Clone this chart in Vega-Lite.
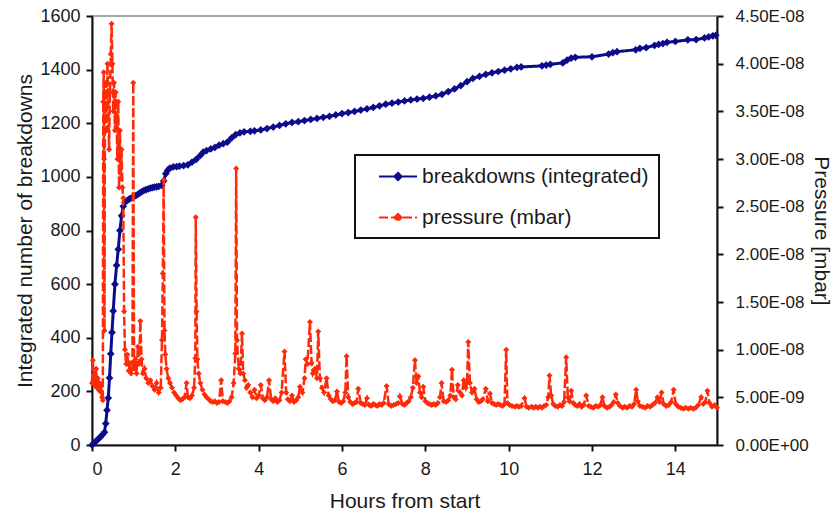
{
  "$schema": "https://vega.github.io/schema/vega-lite/v6.json",
  "width": 625,
  "height": 429,
  "autosize": {"type": "none"},
  "padding": {"left": 92, "top": 16, "right": 117, "bottom": 67},
  "background": "white",
  "config": {
    "view": {"stroke": "#8c8c8c", "strokeWidth": 1.5},
    "font": "Liberation Sans",
    "axis": {
      "grid": false,
      "domainColor": "#111111",
      "domainWidth": 2,
      "tickColor": "#111111",
      "tickWidth": 2,
      "tickSize": 6,
      "labelFont": "Liberation Sans",
      "labelFontSize": 18,
      "labelColor": "#1a1a1a",
      "titleFont": "Liberation Sans",
      "titleFontSize": 21,
      "titleFontWeight": "normal",
      "titleColor": "#1a1a1a"
    },
    "legend": {
      "labelFont": "Liberation Sans",
      "labelFontSize": 21,
      "labelColor": "#1a1a1a",
      "labelLimit": 400,
      "strokeColor": "#111111",
      "strokeWidth": 2,
      "fillColor": "white",
      "padding": 10,
      "rowPadding": 19,
      "symbolType": "M0.24,0H3.86M2.05,-0.35L2.4,0L2.05,0.35L1.7,0Z",
      "symbolSize": 441,
      "symbolStrokeWidth": 2,
      "labelOffset": 34
    }
  },
  "datasets": {
    "breakdowns": [
      {"t":0,"v":0},{"t":0.05,"v":8},{"t":0.1,"v":15},{"t":0.15,"v":22},{"t":0.2,"v":30},{"t":0.25,"v":38},{"t":0.3,"v":48},
      {"t":0.33,"v":80},{"t":0.36,"v":130},{"t":0.39,"v":175},{"t":0.42,"v":250},{"t":0.45,"v":340},{"t":0.48,"v":420},
      {"t":0.51,"v":500},{"t":0.55,"v":600},{"t":0.59,"v":670},{"t":0.63,"v":730},{"t":0.67,"v":800},{"t":0.71,"v":855},
      {"t":0.75,"v":890},{"t":0.79,"v":905},{"t":0.85,"v":912},{"t":0.9,"v":918},{"t":0.95,"v":922},{"t":1.0,"v":926},
      {"t":1.05,"v":930},{"t":1.1,"v":935},{"t":1.15,"v":940},{"t":1.2,"v":945},{"t":1.25,"v":950},{"t":1.3,"v":952},
      {"t":1.35,"v":955},{"t":1.4,"v":958},{"t":1.45,"v":960},{"t":1.5,"v":962},{"t":1.55,"v":963},{"t":1.6,"v":965},
      {"t":1.67,"v":968},{"t":1.72,"v":985},{"t":1.77,"v":1012},{"t":1.82,"v":1025},{"t":1.87,"v":1033},{"t":1.95,"v":1037},
      {"t":2.03,"v":1038},{"t":2.1,"v":1040},{"t":2.2,"v":1042},{"t":2.3,"v":1045},{"t":2.4,"v":1055},{"t":2.5,"v":1065},
      {"t":2.6,"v":1080},{"t":2.67,"v":1092},{"t":2.75,"v":1098},{"t":2.85,"v":1104},{"t":2.95,"v":1110},{"t":3.05,"v":1118},
      {"t":3.15,"v":1124},{"t":3.25,"v":1130},{"t":3.35,"v":1145},{"t":3.45,"v":1158},{"t":3.55,"v":1164},{"t":3.65,"v":1168},
      {"t":3.8,"v":1170},{"t":3.9,"v":1172},{"t":4.05,"v":1175},{"t":4.2,"v":1180},{"t":4.35,"v":1186},{"t":4.5,"v":1192},
      {"t":4.65,"v":1198},{"t":4.8,"v":1203},{"t":4.95,"v":1206},{"t":5.1,"v":1210},{"t":5.25,"v":1214},{"t":5.4,"v":1218},
      {"t":5.55,"v":1222},{"t":5.7,"v":1226},{"t":5.85,"v":1231},{"t":6.0,"v":1236},{"t":6.15,"v":1240},{"t":6.3,"v":1244},
      {"t":6.45,"v":1249},{"t":6.6,"v":1254},{"t":6.75,"v":1259},{"t":6.9,"v":1265},{"t":7.05,"v":1271},{"t":7.2,"v":1275},
      {"t":7.35,"v":1279},{"t":7.5,"v":1283},{"t":7.65,"v":1287},{"t":7.8,"v":1290},{"t":7.95,"v":1293},{"t":8.1,"v":1297},
      {"t":8.25,"v":1302},{"t":8.4,"v":1308},{"t":8.55,"v":1318},{"t":8.7,"v":1328},{"t":8.85,"v":1340},{"t":9.0,"v":1355},
      {"t":9.14,"v":1367},{"t":9.3,"v":1375},{"t":9.45,"v":1382},{"t":9.6,"v":1388},{"t":9.75,"v":1393},{"t":9.9,"v":1398},
      {"t":10.05,"v":1403},{"t":10.2,"v":1408},{"t":10.3,"v":1410},{"t":10.8,"v":1414},{"t":10.9,"v":1417},{"t":11.0,"v":1420},
      {"t":11.3,"v":1425},{"t":11.4,"v":1435},{"t":11.5,"v":1443},{"t":11.6,"v":1446},{"t":12.0,"v":1448},{"t":12.4,"v":1458},
      {"t":12.5,"v":1463},{"t":12.6,"v":1467},{"t":13.05,"v":1474},{"t":13.15,"v":1479},{"t":13.3,"v":1482},{"t":13.5,"v":1490},
      {"t":13.6,"v":1494},{"t":13.7,"v":1497},{"t":13.8,"v":1502},{"t":14.0,"v":1505},{"t":14.3,"v":1511},{"t":14.5,"v":1512},
      {"t":14.7,"v":1518},{"t":14.8,"v":1522},{"t":14.9,"v":1526},{"t":14.97,"v":1528}
    ],
    "pressure": [
      {"t":0.00,"p":6.5e-9},{"t":0.02,"p":8.9e-9},{"t":0.04,"p":6.8e-9},{"t":0.06,"p":7.5e-9},{"t":0.08,"p":6.2e-9},
      {"t":0.10,"p":8.0e-9},{"t":0.12,"p":6.0e-9},{"t":0.14,"p":7.0e-9},{"t":0.16,"p":5.8e-9},{"t":0.18,"p":6.5e-9},
      {"t":0.20,"p":5.6e-9},{"t":0.22,"p":6.2e-9},{"t":0.24,"p":5.0e-9},{"t":0.26,"p":4.7e-9},{"t":0.27,"p":36.0e-9},
      {"t":0.28,"p":39.1e-9},{"t":0.29,"p":30.0e-9},{"t":0.30,"p":12.0e-9},{"t":0.31,"p":35.0e-9},{"t":0.33,"p":38.0e-9},
      {"t":0.35,"p":33.0e-9},{"t":0.37,"p":40.0e-9},{"t":0.39,"p":36.0e-9},{"t":0.41,"p":31.0e-9},{"t":0.43,"p":37.0e-9},
      {"t":0.45,"p":41.0e-9},{"t":0.47,"p":44.2e-9},{"t":0.49,"p":40.0e-9},{"t":0.51,"p":35.0e-9},{"t":0.53,"p":38.0e-9},
      {"t":0.55,"p":33.0e-9},{"t":0.57,"p":37.0e-9},{"t":0.59,"p":34.0e-9},{"t":0.61,"p":30.0e-9},{"t":0.63,"p":36.0e-9},
      {"t":0.65,"p":27.0e-9},{"t":0.67,"p":33.0e-9},{"t":0.69,"p":28.0e-9},{"t":0.71,"p":31.0e-9},{"t":0.73,"p":27.0e-9},
      {"t":0.75,"p":25.9e-9},{"t":0.77,"p":14.0e-9},{"t":0.79,"p":10.0e-9},{"t":0.82,"p":8.5e-9},{"t":0.85,"p":9.5e-9},
      {"t":0.88,"p":7.8e-9},{"t":0.91,"p":8.6e-9},{"t":0.94,"p":7.5e-9},{"t":0.97,"p":8.0e-9},{"t":0.99,"p":38.0e-9},
      {"t":1.01,"p":8.0e-9},{"t":1.04,"p":9.0e-9},{"t":1.07,"p":7.5e-9},{"t":1.10,"p":10.3e-9},{"t":1.13,"p":8.5e-9},
      {"t":1.16,"p":13.0e-9},{"t":1.19,"p":9.0e-9},{"t":1.22,"p":7.5e-9},{"t":1.26,"p":8.0e-9},{"t":1.30,"p":7.0e-9},
      {"t":1.35,"p":6.5e-9},{"t":1.40,"p":6.8e-9},{"t":1.45,"p":6.2e-9},{"t":1.50,"p":5.8e-9},{"t":1.55,"p":6.5e-9},
      {"t":1.60,"p":5.5e-9},{"t":1.65,"p":6.0e-9},{"t":1.68,"p":11.0e-9},{"t":1.70,"p":18.0e-9},{"t":1.72,"p":27.8e-9},
      {"t":1.74,"p":12.0e-9},{"t":1.76,"p":9.5e-9},{"t":1.79,"p":8.0e-9},{"t":1.83,"p":7.0e-9},{"t":1.87,"p":6.5e-9},
      {"t":1.92,"p":6.0e-9},{"t":1.97,"p":5.5e-9},{"t":2.02,"p":5.2e-9},{"t":2.07,"p":4.9e-9},{"t":2.12,"p":4.7e-9},
      {"t":2.17,"p":4.8e-9},{"t":2.22,"p":5.0e-9},{"t":2.27,"p":6.5e-9},{"t":2.30,"p":5.0e-9},{"t":2.35,"p":4.9e-9},
      {"t":2.40,"p":5.2e-9},{"t":2.45,"p":6.0e-9},{"t":2.48,"p":9.1e-9},{"t":2.49,"p":23.9e-9},{"t":2.51,"p":14.0e-9},
      {"t":2.53,"p":9.0e-9},{"t":2.56,"p":7.5e-9},{"t":2.60,"p":6.5e-9},{"t":2.65,"p":5.8e-9},{"t":2.70,"p":5.3e-9},
      {"t":2.75,"p":5.0e-9},{"t":2.80,"p":4.8e-9},{"t":2.85,"p":4.6e-9},{"t":2.90,"p":4.5e-9},{"t":2.95,"p":4.6e-9},
      {"t":3.00,"p":4.4e-9},{"t":3.05,"p":4.5e-9},{"t":3.10,"p":6.8e-9},{"t":3.14,"p":4.6e-9},{"t":3.20,"p":4.5e-9},
      {"t":3.25,"p":4.4e-9},{"t":3.30,"p":4.6e-9},{"t":3.35,"p":5.0e-9},{"t":3.40,"p":6.5e-9},{"t":3.44,"p":9.6e-9},
      {"t":3.46,"p":29.0e-9},{"t":3.48,"p":11.0e-9},{"t":3.52,"p":8.0e-9},{"t":3.56,"p":7.5e-9},{"t":3.60,"p":11.7e-9},
      {"t":3.63,"p":7.5e-9},{"t":3.67,"p":6.8e-9},{"t":3.71,"p":6.0e-9},{"t":3.75,"p":6.3e-9},{"t":3.80,"p":5.5e-9},
      {"t":3.85,"p":5.0e-9},{"t":3.90,"p":5.8e-9},{"t":3.95,"p":4.9e-9},{"t":4.00,"p":5.2e-9},{"t":4.05,"p":6.3e-9},
      {"t":4.10,"p":4.9e-9},{"t":4.15,"p":4.7e-9},{"t":4.20,"p":5.0e-9},{"t":4.25,"p":6.8e-9},{"t":4.30,"p":4.8e-9},
      {"t":4.35,"p":4.6e-9},{"t":4.40,"p":4.9e-9},{"t":4.45,"p":4.5e-9},{"t":4.50,"p":4.7e-9},{"t":4.55,"p":5.5e-9},
      {"t":4.62,"p":9.8e-9},{"t":4.66,"p":5.5e-9},{"t":4.70,"p":4.8e-9},{"t":4.75,"p":4.6e-9},{"t":4.80,"p":5.2e-9},
      {"t":4.85,"p":4.5e-9},{"t":4.90,"p":4.7e-9},{"t":4.95,"p":5.0e-9},{"t":4.99,"p":6.1e-9},{"t":5.05,"p":5.5e-9},
      {"t":5.10,"p":7.0e-9},{"t":5.13,"p":9.0e-9},{"t":5.17,"p":8.5e-9},{"t":5.23,"p":12.9e-9},{"t":5.27,"p":8.6e-9},
      {"t":5.30,"p":7.5e-9},{"t":5.35,"p":8.0e-9},{"t":5.40,"p":7.0e-9},{"t":5.43,"p":11.9e-9},{"t":5.47,"p":7.0e-9},
      {"t":5.52,"p":6.0e-9},{"t":5.57,"p":5.5e-9},{"t":5.63,"p":7.0e-9},{"t":5.68,"p":5.2e-9},{"t":5.73,"p":4.8e-9},
      {"t":5.78,"p":4.6e-9},{"t":5.83,"p":4.7e-9},{"t":5.88,"p":5.6e-9},{"t":5.93,"p":4.5e-9},{"t":5.98,"p":4.4e-9},
      {"t":6.03,"p":4.6e-9},{"t":6.08,"p":5.5e-9},{"t":6.11,"p":9.3e-9},{"t":6.15,"p":5.0e-9},{"t":6.20,"p":4.5e-9},
      {"t":6.25,"p":4.3e-9},{"t":6.30,"p":4.4e-9},{"t":6.35,"p":4.5e-9},{"t":6.39,"p":5.9e-9},{"t":6.45,"p":4.4e-9},
      {"t":6.50,"p":4.3e-9},{"t":6.55,"p":4.2e-9},{"t":6.60,"p":4.9e-9},{"t":6.65,"p":4.2e-9},{"t":6.70,"p":4.1e-9},
      {"t":6.75,"p":4.3e-9},{"t":6.80,"p":4.2e-9},{"t":6.85,"p":4.1e-9},{"t":6.90,"p":4.3e-9},{"t":6.95,"p":4.2e-9},
      {"t":7.00,"p":4.4e-9},{"t":7.07,"p":6.2e-9},{"t":7.12,"p":4.3e-9},{"t":7.18,"p":4.1e-9},{"t":7.24,"p":4.2e-9},
      {"t":7.30,"p":4.3e-9},{"t":7.35,"p":4.4e-9},{"t":7.39,"p":5.1e-9},{"t":7.45,"p":4.3e-9},{"t":7.50,"p":4.2e-9},
      {"t":7.55,"p":4.4e-9},{"t":7.60,"p":4.6e-9},{"t":7.65,"p":5.0e-9},{"t":7.70,"p":6.0e-9},{"t":7.75,"p":8.9e-9},
      {"t":7.79,"p":6.5e-9},{"t":7.83,"p":7.2e-9},{"t":7.87,"p":5.5e-9},{"t":7.91,"p":5.0e-9},{"t":7.95,"p":6.1e-9},
      {"t":8.00,"p":4.6e-9},{"t":8.05,"p":4.4e-9},{"t":8.10,"p":4.3e-9},{"t":8.15,"p":4.2e-9},{"t":8.20,"p":4.3e-9},
      {"t":8.25,"p":4.2e-9},{"t":8.30,"p":4.4e-9},{"t":8.35,"p":5.0e-9},{"t":8.39,"p":6.5e-9},{"t":8.44,"p":4.6e-9},
      {"t":8.50,"p":4.5e-9},{"t":8.55,"p":4.7e-9},{"t":8.60,"p":5.2e-9},{"t":8.64,"p":7.9e-9},{"t":8.68,"p":5.0e-9},
      {"t":8.73,"p":4.8e-9},{"t":8.78,"p":6.3e-9},{"t":8.83,"p":5.5e-9},{"t":8.88,"p":5.2e-9},{"t":8.92,"p":6.8e-9},
      {"t":8.97,"p":6.0e-9},{"t":9.00,"p":6.5e-9},{"t":9.03,"p":10.8e-9},{"t":9.07,"p":6.5e-9},{"t":9.12,"p":5.5e-9},
      {"t":9.18,"p":5.9e-9},{"t":9.23,"p":4.8e-9},{"t":9.28,"p":4.5e-9},{"t":9.33,"p":4.6e-9},{"t":9.38,"p":4.8e-9},
      {"t":9.45,"p":5.9e-9},{"t":9.50,"p":4.6e-9},{"t":9.55,"p":5.4e-9},{"t":9.60,"p":4.4e-9},{"t":9.65,"p":4.3e-9},
      {"t":9.70,"p":4.2e-9},{"t":9.75,"p":4.3e-9},{"t":9.80,"p":4.2e-9},{"t":9.85,"p":4.1e-9},{"t":9.90,"p":4.3e-9},
      {"t":9.94,"p":10.0e-9},{"t":9.97,"p":4.4e-9},{"t":10.02,"p":4.2e-9},{"t":10.08,"p":4.1e-9},{"t":10.15,"p":4.0e-9},
      {"t":10.20,"p":4.1e-9},{"t":10.25,"p":4.0e-9},{"t":10.30,"p":4.1e-9},{"t":10.38,"p":4.9e-9},{"t":10.43,"p":4.0e-9},
      {"t":10.48,"p":3.9e-9},{"t":10.55,"p":4.0e-9},{"t":10.60,"p":3.9e-9},{"t":10.65,"p":4.0e-9},{"t":10.70,"p":3.9e-9},
      {"t":10.75,"p":4.0e-9},{"t":10.80,"p":3.9e-9},{"t":10.85,"p":4.1e-9},{"t":10.90,"p":4.2e-9},{"t":10.95,"p":5.0e-9},
      {"t":10.98,"p":7.3e-9},{"t":11.02,"p":5.2e-9},{"t":11.07,"p":4.3e-9},{"t":11.12,"p":4.1e-9},{"t":11.18,"p":4.0e-9},
      {"t":11.23,"p":4.2e-9},{"t":11.28,"p":4.1e-9},{"t":11.33,"p":4.5e-9},{"t":11.38,"p":9.2e-9},{"t":11.42,"p":5.0e-9},
      {"t":11.46,"p":4.6e-9},{"t":11.50,"p":5.7e-9},{"t":11.55,"p":4.4e-9},{"t":11.60,"p":4.2e-9},{"t":11.65,"p":4.1e-9},
      {"t":11.70,"p":4.3e-9},{"t":11.75,"p":4.0e-9},{"t":11.80,"p":4.2e-9},{"t":11.86,"p":5.2e-9},{"t":11.92,"p":4.1e-9},
      {"t":11.97,"p":4.0e-9},{"t":12.03,"p":3.9e-9},{"t":12.09,"p":4.1e-9},{"t":12.15,"p":4.0e-9},{"t":12.20,"p":4.2e-9},
      {"t":12.25,"p":5.0e-9},{"t":12.30,"p":4.1e-9},{"t":12.36,"p":3.9e-9},{"t":12.42,"p":4.0e-9},{"t":12.47,"p":4.2e-9},
      {"t":12.52,"p":4.5e-9},{"t":12.57,"p":5.3e-9},{"t":12.62,"p":4.4e-9},{"t":12.67,"p":4.1e-9},{"t":12.73,"p":3.9e-9},
      {"t":12.78,"p":4.0e-9},{"t":12.84,"p":3.9e-9},{"t":12.90,"p":4.1e-9},{"t":12.96,"p":4.0e-9},{"t":13.01,"p":4.3e-9},
      {"t":13.06,"p":5.8e-9},{"t":13.10,"p":4.6e-9},{"t":13.15,"p":4.1e-9},{"t":13.21,"p":4.0e-9},{"t":13.27,"p":3.9e-9},
      {"t":13.33,"p":4.1e-9},{"t":13.39,"p":4.0e-9},{"t":13.45,"p":4.2e-9},{"t":13.51,"p":4.4e-9},{"t":13.57,"p":5.0e-9},
      {"t":13.62,"p":4.5e-9},{"t":13.67,"p":5.5e-9},{"t":13.72,"p":4.3e-9},{"t":13.78,"p":4.1e-9},{"t":13.84,"p":4.2e-9},
      {"t":13.90,"p":4.5e-9},{"t":13.96,"p":5.8e-9},{"t":14.01,"p":4.3e-9},{"t":14.07,"p":4.0e-9},{"t":14.13,"p":3.9e-9},
      {"t":14.19,"p":3.8e-9},{"t":14.25,"p":3.9e-9},{"t":14.31,"p":3.8e-9},{"t":14.37,"p":3.9e-9},{"t":14.43,"p":3.8e-9},
      {"t":14.49,"p":3.9e-9},{"t":14.55,"p":4.2e-9},{"t":14.62,"p":5.0e-9},{"t":14.67,"p":4.3e-9},{"t":14.72,"p":4.5e-9},
      {"t":14.77,"p":5.7e-9},{"t":14.82,"p":4.4e-9},{"t":14.88,"p":4.0e-9},{"t":14.94,"p":4.2e-9},{"t":15.00,"p":3.9e-9}
    ]
  },
  "encoding": {
    "x": {
      "field": "t",
      "type": "quantitative",
      "scale": {"domain": [0, 15], "nice": false, "zero": false},
      "axis": {
        "title": "Hours from start",
        "values": [0, 2, 4, 6, 8, 10, 12, 14],
        "labelPadding": 9,
        "titlePadding": 12
      }
    }
  },
  "layer": [
    {
      "data": {"name": "breakdowns"},
      "mark": {
        "type": "line",
        "strokeWidth": 3,
        "point": {"filled": true, "shape": "diamond", "size": 60}
      },
      "encoding": {
        "y": {
          "field": "v",
          "type": "quantitative",
          "scale": {"domain": [0, 1600], "nice": false},
          "axis": {
            "orient": "left",
            "title": "Integrated number of breakdowns",
            "format": "d",
            "values": [0, 200, 400, 600, 800, 1000, 1200, 1400, 1600],
            "labelPadding": 6,
            "titlePadding": 4
          }
        },
        "color": {
          "datum": "breakdowns (integrated)",
          "scale": {
            "domain": ["breakdowns (integrated)", "pressure (mbar)"],
            "range": ["#0b0b8c", "#ff2a0a"]
          },
          "legend": {"title": null, "orient": "none", "legendX": 263, "legendY": 139}
        },
        "strokeDash": {
          "datum": "breakdowns (integrated)",
          "scale": {
            "domain": ["breakdowns (integrated)", "pressure (mbar)"],
            "range": [[1, 0], [9, 3]]
          },
          "legend": {"title": null, "orient": "none", "legendX": 263, "legendY": 139}
        }
      }
    },
    {
      "data": {"name": "pressure"},
      "mark": {
        "type": "line",
        "strokeWidth": 2.5,
        "point": {"filled": true, "shape": "diamond", "size": 36}
      },
      "encoding": {
        "y": {
          "field": "p",
          "type": "quantitative",
          "scale": {"domain": [0, 4.5e-8], "nice": false},
          "axis": {
            "orient": "right",
            "title": "Pressure [mbar]",
            "values": [0, 5e-9, 1e-8, 1.5e-8, 2e-8, 2.5e-8, 3e-8, 3.5e-8, 4e-8, 4.5e-8],
            "labelExpr": "replace(replace(upper(format(datum.value, '.2e')), 'E-', 'E-0'), 'E+', 'E+0')",
            "labelFontSize": 17,
            "labelPadding": 12,
            "titlePadding": 2
          }
        },
        "color": {"datum": "pressure (mbar)"},
        "strokeDash": {"datum": "pressure (mbar)"}
      }
    }
  ],
  "resolve": {"scale": {"y": "independent"}}
}
